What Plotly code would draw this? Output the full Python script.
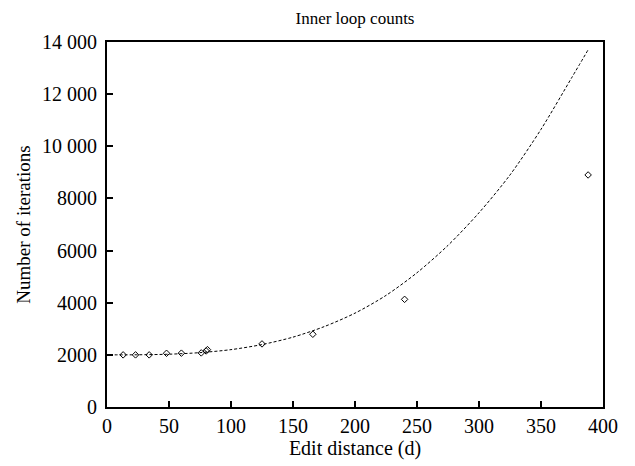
import plotly.graph_objects as go

# Measured points (edit distance vs. inner loop iterations)
edit_distance = [13, 23, 34, 48, 60, 76, 80, 81, 125, 166, 240, 388]
iterations = [2000, 2000, 2000, 2060, 2065, 2075, 2150, 2200, 2420, 2790, 4130, 8900]

# Fitted trend curve
fit_x = [2, 25, 50, 75, 100, 125, 150, 175, 200, 225, 250, 275, 300, 325, 350, 375, 388]
fit_y = [2000, 2003, 2025, 2085, 2200, 2395, 2680, 3080, 3600, 4280, 5150, 6200,
         7450, 8900, 10650, 12650, 13700]

x_ticks = [0, 50, 100, 150, 200, 250, 300, 350, 400]
y_ticks = [0, 2000, 4000, 6000, 8000, 10000, 12000, 14000]
y_ticktext = ["0", "2000", "4000", "6000", "8000", "10 000", "12 000", "14 000"]

FONT = "Liberation Serif"

fig = go.Figure()
fig.add_trace(go.Scatter(
    x=fit_x, y=fit_y, mode="lines",
    line=dict(color="black", width=1, dash="3px,2px", shape="spline", smoothing=0.8),
    showlegend=False, hoverinfo="skip",
))
fig.add_trace(go.Scatter(
    x=edit_distance, y=iterations, mode="markers",
    marker=dict(symbol="diamond-open", size=5, color="black", line=dict(width=1)),
    showlegend=False,
))

# page body adds an 8px offset, so margins are in figure coordinates
fig.update_layout(
    width=635, height=466,
    margin=dict(l=99, r=40, t=34, b=67, autoexpand=False),
    paper_bgcolor="white", plot_bgcolor="white",
    font=dict(family=FONT, color="black", size=18),
    title=dict(text="Inner loop counts", x=(347 / 635), xanchor="center",
               y=1 - 10 / 466, yanchor="middle", font=dict(size=17, family=FONT)),
)
fig.update_xaxes(
    range=[0, 400], tickvals=x_ticks, ticktext=[str(v) for v in x_ticks],
    ticks="inside", ticklen=6, tickwidth=1.5, tickcolor="black",
    showline=True, linecolor="black", linewidth=2, mirror=True,
    showgrid=False, zeroline=False, automargin=False,
    tickfont=dict(size=20, family=FONT),
    title=dict(text="Edit distance (d)", font=dict(size=20, family=FONT), standoff=4),
)
fig.update_yaxes(
    range=[0, 14000], tickvals=y_ticks, ticktext=y_ticktext,
    ticks="inside", ticklen=6, tickwidth=1.5, tickcolor="black",
    showline=True, linecolor="black", linewidth=2, mirror=True,
    showgrid=False, zeroline=False, automargin=False,
    tickfont=dict(size=20, family=FONT), ticklabelstandoff=4,
    title=dict(text="Number of iterations", font=dict(size=19, family=FONT), standoff=6),
)

fig.write_html("out.html")
